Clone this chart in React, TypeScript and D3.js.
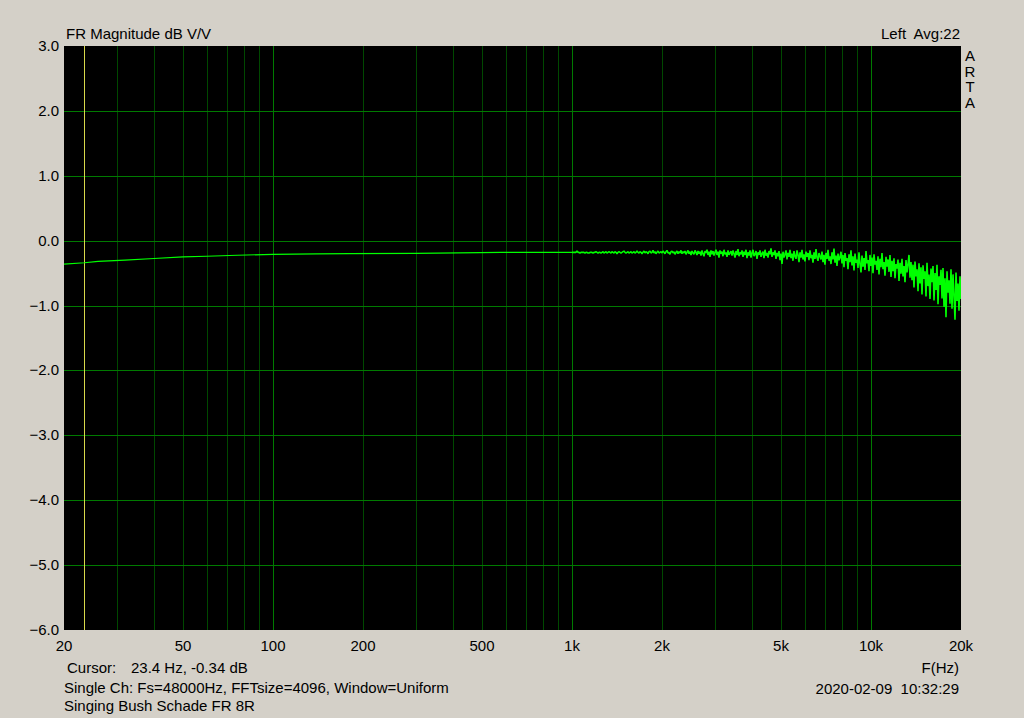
import * as d3 from "d3";

// smooth part of the trace, 20 Hz .. 1 kHz
const smoothHz = [20, 23.4, 26, 32, 40, 50, 60, 76, 100, 140, 180, 300, 580, 1000];
const smoothDb = [-0.36, -0.34, -0.32, -0.3, -0.275, -0.25, -0.24, -0.225, -0.21, -0.205, -0.2, -0.195, -0.18, -0.18];

// noisy part, log-spaced samples from 1 kHz to 20 kHz (one per screen column)
const noiseStartHz = 1000;
const noiseEndHz = 20000;
const noiseDb = [
  -0.18, -0.18, -0.18, -0.18, -0.18, -0.16, -0.18, -0.18, -0.19, -0.18,
  -0.18, -0.18, -0.18, -0.19, -0.18, -0.18, -0.19, -0.19, -0.18, -0.18,
  -0.18, -0.19, -0.18, -0.18, -0.17, -0.18, -0.19, -0.18, -0.18, -0.19,
  -0.18, -0.17, -0.19, -0.18, -0.17, -0.19, -0.18, -0.17, -0.18, -0.19,
  -0.17, -0.18, -0.19, -0.17, -0.18, -0.2, -0.18, -0.17, -0.18, -0.19,
  -0.18, -0.17, -0.16, -0.18, -0.19, -0.18, -0.17, -0.19, -0.18, -0.17,
  -0.19, -0.18, -0.17, -0.19, -0.18, -0.16, -0.18, -0.19, -0.17, -0.18,
  -0.2, -0.18, -0.16, -0.19, -0.17, -0.18, -0.2, -0.17, -0.16, -0.19,
  -0.18, -0.15, -0.19, -0.17, -0.2, -0.18, -0.16, -0.19, -0.18, -0.17,
  -0.19, -0.16, -0.18, -0.2, -0.17, -0.15, -0.19, -0.18, -0.21, -0.17,
  -0.16, -0.19, -0.17, -0.21, -0.18, -0.16, -0.2, -0.17, -0.19, -0.15,
  -0.2, -0.17, -0.19, -0.16, -0.21, -0.18, -0.15, -0.2, -0.17, -0.22,
  -0.16, -0.19, -0.21, -0.15, -0.18, -0.22, -0.16, -0.2, -0.17, -0.23,
  -0.15, -0.2, -0.24, -0.16, -0.19, -0.14, -0.22, -0.17, -0.25, -0.15,
  -0.21, -0.16, -0.23, -0.18, -0.14, -0.22, -0.17, -0.26, -0.15, -0.2,
  -0.17, -0.24, -0.14, -0.21, -0.18, -0.25, -0.15, -0.22, -0.19, -0.16,
  -0.23, -0.15, -0.2, -0.26, -0.16, -0.22, -0.13, -0.24, -0.18, -0.21,
  -0.15, -0.25, -0.17, -0.22, -0.14, -0.27, -0.18, -0.23, -0.15, -0.26,
  -0.19, -0.14, -0.24, -0.21, -0.16, -0.28, -0.18, -0.22, -0.15, -0.25,
  -0.2, -0.17, -0.27, -0.14, -0.23, -0.19, -0.26, -0.16, -0.21, -0.12,
  -0.25, -0.18, -0.22, -0.15, -0.28, -0.19, -0.24, -0.16, -0.3, -0.2,
  -0.36, -0.17, -0.26, -0.21, -0.15, -0.29, -0.19, -0.25, -0.14, -0.27,
  -0.2, -0.31, -0.16, -0.24, -0.28, -0.15, -0.22, -0.33, -0.18, -0.26,
  -0.14, -0.29, -0.21, -0.32, -0.17, -0.25, -0.19, -0.3, -0.15, -0.27,
  -0.22, -0.34, -0.18, -0.28, -0.13, -0.26, -0.31, -0.19, -0.24, -0.29,
  -0.17, -0.33, -0.22, -0.37, -0.19, -0.28, -0.14, -0.31, -0.24, -0.36,
  -0.18, -0.29, -0.12, -0.34, -0.23, -0.39, -0.2, -0.3, -0.26, -0.17,
  -0.35, -0.22, -0.41, -0.19, -0.31, -0.27, -0.44, -0.21, -0.33, -0.15,
  -0.38, -0.24, -0.46, -0.2, -0.34, -0.29, -0.42, -0.18, -0.36, -0.49,
  -0.23, -0.4, -0.27, -0.45, -0.16, -0.35, -0.3, -0.47, -0.22, -0.39,
  -0.26, -0.5, -0.21, -0.37, -0.31, -0.45, -0.24, -0.52, -0.28, -0.41,
  -0.19, -0.44, -0.33, -0.54, -0.25, -0.4, -0.29, -0.48, -0.22, -0.56,
  -0.31, -0.47, -0.27, -0.58, -0.36, -0.43, -0.29, -0.62, -0.34, -0.51,
  -0.28, -0.55, -0.39, -0.64, -0.3, -0.49, -0.36, -0.22, -0.57, -0.33,
  -0.61, -0.37, -0.72, -0.32, -0.55, -0.44, -0.78, -0.35, -0.66, -0.41,
  -0.83, -0.38, -0.59, -0.47, -0.86, -0.34, -0.7, -0.52, -0.9, -0.43,
  -0.64, -0.39, -0.92, -0.5, -0.76, -0.37, -0.98, -0.55, -0.68, -0.45,
  -0.89, -0.42, -1.02, -0.58, -1.18, -0.47, -0.8, -0.61, -0.97, -0.44,
  -1.05, -0.52, -0.84, -1.22, -0.49, -0.93, -0.66, -1.08, -0.55, -0.9,
];

const yTicks = [3, 2, 1, 0, -1, -2, -3, -4, -5, -6];
const xTicks = [20, 50, 100, 200, 500, 1000, 2000, 5000, 10000, 20000];
const xTickLabels = ["20", "50", "100", "200", "500", "1k", "2k", "5k", "10k", "20k"];
const minorHz = [
  30, 40, 50, 60, 70, 80, 90, 200, 300, 400, 500, 600, 700, 800, 900,
  2000, 3000, 4000, 5000, 6000, 7000, 8000, 9000,
];
const decadeHz = [100, 1000, 10000];
const cursorHz = 23.4;

const font = "'Liberation Sans', Arial, sans-serif";

export default function App() {
  const width = 1024;
  const height = 718;
  const left = 64;
  const right = 961;
  const top = 46;
  const bottom = 630;

  const x = d3.scaleLog().domain([20, 20000]).range([left, right]);
  const y = d3.scaleLinear().domain([-6, 3]).range([bottom, top]);
  const px = (v: number) => Math.round(v) + 0.5;

  const line = d3
    .line<[number, number]>()
    .x((d) => x(d[0]))
    .y((d) => y(d[1]));

  const smoothPts: [number, number][] = smoothHz.map((f, i) => [f, smoothDb[i]]);
  const n = noiseDb.length;
  const noisePts: [number, number][] = noiseDb.map((v, i) => [
    noiseStartHz * Math.pow(noiseEndHz / noiseStartHz, i / (n - 1)),
    v,
  ]);

  const txt = { fontFamily: font, fontSize: 15, fill: "#000" };

  return (
    <svg
      width={width}
      height={height}
      style={{ position: "absolute", left: 0, top: 0, display: "block" }}
    >
      <rect x={0} y={0} width={width} height={height} fill="#d4d0c8" />
      <rect x={left} y={top} width={right - left} height={bottom - top} fill="#000" />

      <g shapeRendering="crispEdges" strokeWidth={1}>
        {minorHz.map((f) => (
          <line key={`m${f}`} x1={px(x(f))} x2={px(x(f))} y1={top} y2={bottom} stroke="#004800" />
        ))}
        {decadeHz.map((f) => (
          <line key={`d${f}`} x1={px(x(f))} x2={px(x(f))} y1={top} y2={bottom} stroke="#007a00" />
        ))}
        {yTicks.slice(1, -1).map((t) => (
          <line key={`h${t}`} x1={left} x2={right} y1={px(y(t))} y2={px(y(t))} stroke="#007a00" />
        ))}
        <line
          x1={px(x(cursorHz))}
          x2={px(x(cursorHz))}
          y1={top}
          y2={bottom}
          stroke="#d8d84a"
        />
      </g>

      <g clipPath="url(#plotClip)">
        <clipPath id="plotClip">
          <rect x={left} y={top} width={right - left} height={bottom - top} />
        </clipPath>
        <path d={line(smoothPts) ?? ""} fill="none" stroke="#00ff00" strokeWidth={1.2} />
        <path
          d={line(noisePts) ?? ""}
          fill="none"
          stroke="#00ff00"
          strokeWidth={1.6}
          strokeLinejoin="bevel"
        />
      </g>

      {yTicks.map((t) => (
        <text key={`yl${t}`} x={59} y={y(t) + 5} textAnchor="end" {...txt}>
          {d3.format(".1f")(t)}
        </text>
      ))}
      {xTicks.map((f, i) => (
        <text key={`xl${f}`} x={x(f)} y={651} textAnchor="middle" {...txt}>
          {xTickLabels[i]}
        </text>
      ))}

      <text x={66} y={39} {...txt}>FR Magnitude dB V/V</text>
      <text x={960} y={39} textAnchor="end" {...txt} style={{ whiteSpace: "pre" }}>
        {"Left  Avg:22"}
      </text>
      {["A", "R", "T", "A"].map((c, i) => (
        <text key={`arta${i}`} x={970} y={61 + i * 15.7} textAnchor="middle" {...txt}>
          {c}
        </text>
      ))}

      <text x={67} y={673} {...txt}>Cursor:</text>
      <text x={131} y={673} {...txt}>23.4 Hz, -0.34 dB</text>
      <text x={64} y={693} {...txt}>Single Ch: Fs=48000Hz, FFTsize=4096, Window=Uniform</text>
      <text x={64} y={711} {...txt}>Singing Bush Schade FR 8R</text>
      <text x={959} y={673} textAnchor="end" {...txt}>F(Hz)</text>
      <text x={959} y={694} textAnchor="end" {...txt} style={{ whiteSpace: "pre" }}>
        {"2020-02-09  10:32:29"}
      </text>
    </svg>
  );
}
